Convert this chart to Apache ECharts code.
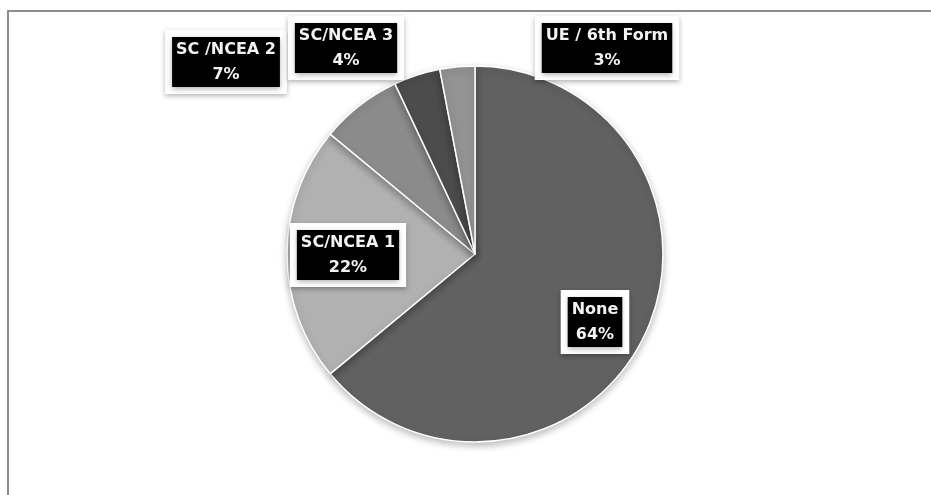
<!DOCTYPE html>
<html>
<head>
<meta charset="utf-8">
<title>Highest qualification</title>
<script src="https://cdn.jsdelivr.net/npm/echarts@6/dist/echarts.min.js"></script>
<style>
  html, body { margin: 0; padding: 0; background: #fff; }
  #chart { width: 931px; height: 495px; }
</style>
</head>
<body>
<div id="chart"></div>
<script>
// Qualification categories and their shares (percent)
const categories = ['None', 'SC/NCEA 1', 'SC /NCEA 2', 'SC/NCEA 3', 'UE / 6th Form'];
const shares = [64, 22, 7, 4, 3];
const sliceColors = ['#616161', '#b1b1b1', '#8b8b8b', '#4c4c4c', '#939393'];

// Label anchor points (centre of each callout box)
const labelAnchors = [[595, 322], [348, 255], [226, 62], [346, 48], [607, 48]];

const chart = echarts.init(document.getElementById('chart'), null, { renderer: 'canvas' });

chart.setOption({
  backgroundColor: '#ffffff',
  animation: false,
  graphic: [{
    type: 'polyline',
    shape: { points: [[8, 495], [8, 11], [931, 11]] },
    style: { stroke: '#8c8c8c', lineWidth: 2, fill: null },
    silent: true
  }],
  series: [{
    type: 'pie',
    center: [475, 254],
    radius: 188,
    startAngle: 90,
    clockwise: true,
    avoidLabelOverlap: false,
    data: categories.map((name, i) => ({
      name: name,
      value: shares[i],
      itemStyle: { color: sliceColors[i] }
    })),
    itemStyle: {
      borderColor: '#ffffff',
      borderWidth: 1.5,
      shadowBlur: 7,
      shadowOffsetY: 3,
      shadowColor: 'rgba(0,0,0,0.25)'
    },
    label: {
      show: true,
      position: 'inside',
      formatter: p => p.name + '\n' + p.value + '%',
      fontFamily: 'DejaVu Sans',
      fontWeight: 'bold',
      fontSize: 16,
      lineHeight: 25,
      color: '#f2f2f2',
      align: 'center',
      backgroundColor: '#000000',
      borderColor: '#ffffff',
      borderWidth: 7,
      padding: [0, 4],
      shadowBlur: 5,
      shadowOffsetY: 2,
      shadowColor: 'rgba(0,0,0,0.3)'
    },
    labelLine: { show: false },
    labelLayout: params => ({
      x: labelAnchors[params.dataIndex][0],
      y: labelAnchors[params.dataIndex][1],
      align: 'center',
      verticalAlign: 'middle'
    }),
    emphasis: { disabled: true }
  }]
});
</script>
</body>
</html>
